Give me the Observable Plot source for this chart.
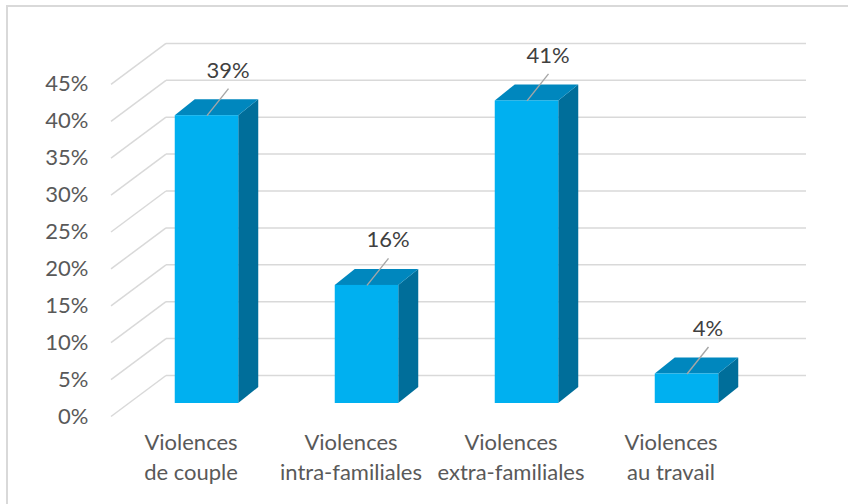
<!DOCTYPE html>
<html>
<head>
<meta charset="utf-8">
<script src="https://cdn.jsdelivr.net/npm/d3@7"></script>
<script src="https://cdn.jsdelivr.net/npm/@observablehq/plot@0.6"></script>
<style>
  html, body { margin: 0; padding: 0; background: #fff; overflow: hidden; }
  #wrap { position: relative; width: 848px; height: 504px; }
  #border { position: absolute; left: 6px; top: 5px; width: 900px; height: 600px;
            border: 2px solid #d9d9d9; box-sizing: border-box; pointer-events: none; }
  #chart { position: absolute; left: 0; top: 0; }
</style>
</head>
<body>
<div id="wrap"><div id="chart"></div><div id="border"></div></div>
<script>
// ---- data ----
const categories = ["Violences\nde couple", "Violences\nintra-familiales", "Violences\nextra-familiales", "Violences\nau travail"];
const values = [39, 16, 41, 4];
const yTicks = [0, 5, 10, 15, 20, 25, 30, 35, 40, 45];

// ---- 3D geometry (pixels) ----
const PX_X = 160, PX_Y = 7.38;
const ux = px => px / PX_X;          // pixel -> x units
const uy = px => -px / PX_Y;         // pixel (down positive) -> % units
const barShift = [16, -13];          // bar front plane vs axis plane
const barDepth = [20, -16];          // bar thickness in depth
const wallShift = [55, -41];         // back wall vs axis plane
const barW = 63.5;

const bars = values.map((v, i) => ({i, v}));
const L = d => d.i + ux(barShift[0] - barW / 2);
const R = d => d.i + ux(barShift[0] + barW / 2);
const base = uy(barShift[1]);

const topFace = bars.flatMap(d => [
  {i: d.i, y: d.v + base, x1: L(d), x2: R(d)},
  {i: d.i, y: d.v + base + uy(barDepth[1]), x1: L(d) + ux(barDepth[0]), x2: R(d) + ux(barDepth[0])}
]);
const sideFace = bars.flatMap(d => [
  {i: d.i, x: R(d), y1: base, y2: d.v + base},
  {i: d.i, x: R(d) + ux(barDepth[0]), y1: base + uy(barDepth[1]), y2: d.v + base + uy(barDepth[1])}
]);

const x0 = -0.5, x1 = categories.length - 0.5;
const wx = ux(wallShift[0]), wy = uy(wallShift[1]);

const chart = Plot.plot({
  width: 848,
  height: 504,
  marginTop: 0,
  marginRight: 0,
  marginBottom: 75,
  marginLeft: 91,
  style: {fontFamily: "Lato, 'Open Sans', sans-serif", background: "transparent"},
  x: {type: "linear", domain: [0, 3], range: [190.5, 670.5]},
  y: {type: "linear", domain: [0, 45], range: [416, 416 - 45 * PX_Y]},
  marks: [
    // gridlines: diagonals on floor side + back wall lines
    Plot.link(yTicks, {x1: x0, y1: d => d, x2: x0 + wx, y2: d => d + wy, stroke: "#d9d9d9", strokeWidth: 1.5}),
    Plot.link(yTicks, {x1: x0 + wx, y1: d => d + wy, x2: x1 + wx, y2: d => d + wy, stroke: "#d9d9d9", strokeWidth: 1.5}),
    // bars
    Plot.areaY(sideFace, {x: "x", y1: "y1", y2: "y2", z: "i", fill: "#006e9a"}),
    Plot.areaX(topFace, {y: "y", x1: "x1", x2: "x2", z: "i", fill: "#0087be"}),
    Plot.rect(bars, {x1: L, x2: R, y1: base, y2: d => d.v + base, fill: "#00b0f0"}),
    // leader lines + labels
    Plot.link(bars, {
      x1: d => d.i + ux(barShift[0]), y1: d => d.v + base,
      x2: d => d.i + ux(barShift[0] + 21.5), y2: d => d.v + base + uy(-27),
      stroke: "#a6a6a6", strokeWidth: 1.4
    }),
    Plot.text(bars, {
      x: d => d.i + ux(barShift[0] + 21), y: d => d.v + base + uy(-45),
      text: d => d.v + "%", fontSize: 22, fill: "#404040", lineAnchor: "middle"
    }),
    // axes
    Plot.axisY({ticks: yTicks, tickFormat: d => d + "%", tickSize: 0, tickPadding: 3,
      fontSize: 22, color: "#595959", label: null}),
    Plot.axisX({ticks: [0, 1, 2, 3], tickFormat: i => categories[i], tickSize: 0, tickPadding: 0,
      fontSize: 22, color: "#595959", label: null, lineHeight: 1.33})
  ]
});
document.getElementById("chart").appendChild(chart);
</script>
</body>
</html>
